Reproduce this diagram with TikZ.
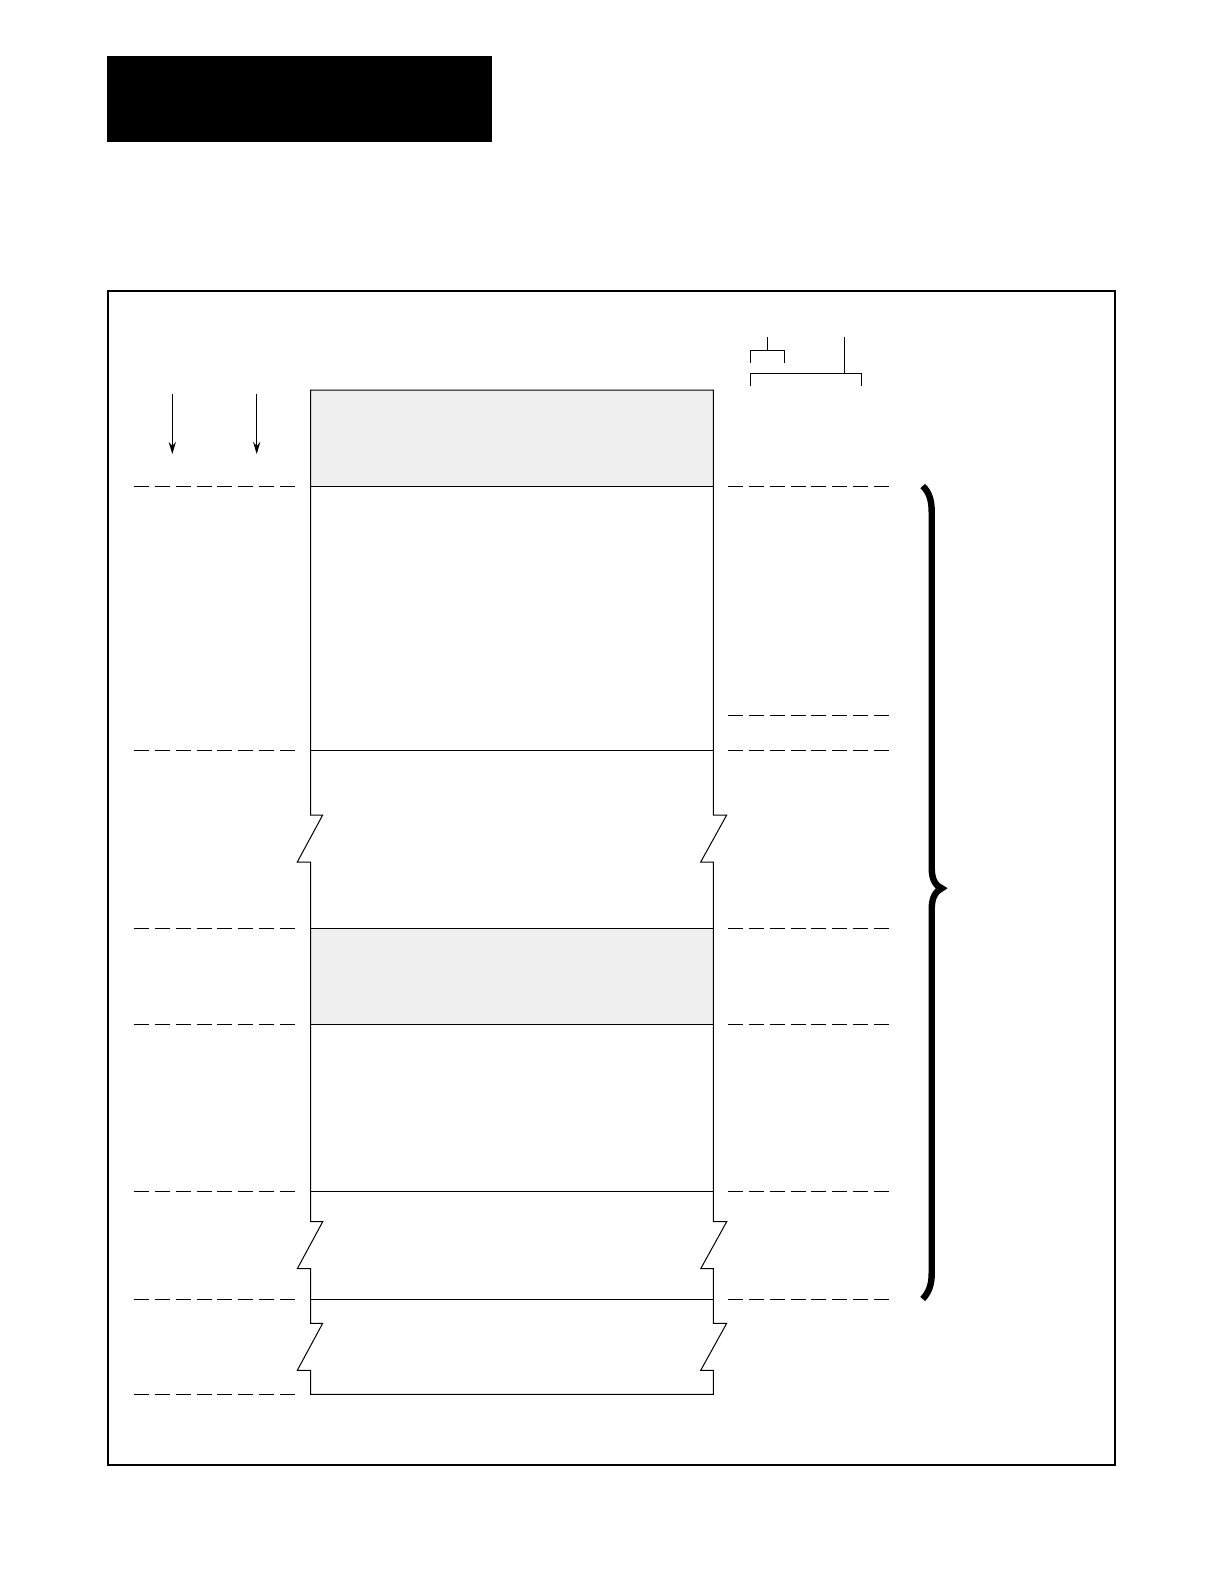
\documentclass[tikz,border=0pt]{standalone}
\usetikzlibrary{arrows.meta}
\definecolor{bandgray}{HTML}{EFEFEF}
\tikzset{
  colline/.style={line width=0.5pt},
  dashline/.style={line width=0.5pt, dash pattern=on 7.5pt off 2.93pt},
  framebox/.style={line width=1pt},
  bracketline/.style={line width=0.65pt},
  downarrow/.style={line width=0.55pt, -{Stealth[length=6pt,width=3.6pt]}},
  bigbrace/.style={line width=3.2pt},
  band/.style={fill=bandgray},
}
\begin{document}
\begin{tikzpicture}[x=0.5pt,y=-0.5pt]
\useasboundingbox (0,0) rectangle (1224,1584);
% header bar
\fill[black] (107,56) rectangle (492,142);
% frame
\draw[framebox] (108,291) rectangle (1115,1465);
% shaded bands
\path[band] (310.7,390) rectangle (713.3,486);
\path[band] (310.7,928) rectangle (713.3,1024.6);
% column outline with breaks
\draw[colline] (310.7,390) -- (310.7,815) -- (322.7,815) -- (297.3,862) -- (310.7,862)
  -- (310.7,1221.7) -- (322.7,1221.7) -- (297.3,1268.7) -- (310.7,1268.7)
  -- (310.7,1323.3) -- (322.7,1323.3) -- (297.3,1370.3) -- (310.7,1370.3)
  -- (310.7,1394.3) -- (713.3,1394.3)
  -- (713.3,1370.3) -- (700.7,1370.3) -- (726.7,1323.3) -- (713.3,1323.3)
  -- (713.3,1268.7) -- (700.7,1268.7) -- (726.7,1221.7) -- (713.3,1221.7)
  -- (713.3,862) -- (700.7,862) -- (726.7,815) -- (713.3,815)
  -- (713.3,390) -- cycle;
% horizontal divisions
\foreach \y in {486,750,928,1024.6,1191.3,1299}
  \draw[colline] (310.7,\y) -- (713.3,\y);
% left dashed levels
\foreach \y in {486,750,928,1024.6,1191.3,1299,1394.3}
  \draw[dashline] (134,\y) -- (295,\y);
% right dashed levels
\foreach \y in {486,715.4,750,928,1024.6,1191.3,1299}
  \draw[dashline] (728,\y) -- (890,\y);
% arrows
\coordinate (a1s) at (172.3,394);
\coordinate (a1e) at (172.3,454);
\coordinate (a2s) at (256.7,394);
\coordinate (a2e) at (256.7,454);
\draw[downarrow] (a1s) -- (a1e);
\draw[downarrow] (a2s) -- (a2e);
% top-right brackets
\coordinate (b1) at (767.7,337);
\coordinate (b2) at (844.3,337);
\draw[bracketline] (b1) -- (767.7,350.7);
\draw[bracketline] (750.3,362.7) -- (750.3,350.7) -- (784.3,350.7) -- (784.3,362.7);
\draw[bracketline] (b2) -- (844.3,373.3);
\draw[bracketline] (750.3,385.7) -- (750.3,373.3) -- (861.7,373.3) -- (861.7,385.7);
% big brace
\draw[bigbrace] (922.7,486) .. controls (929,492) and (931.7,500) .. (931.7,512)
  -- (931.7,868) .. controls (931.7,880) and (936,886) .. (941.7,888.3)
  .. controls (936,891) and (931.7,897) .. (931.7,909)
  -- (931.7,1273) .. controls (931.7,1285) and (929,1292) .. (922.7,1299);
\end{tikzpicture}
\end{document}
